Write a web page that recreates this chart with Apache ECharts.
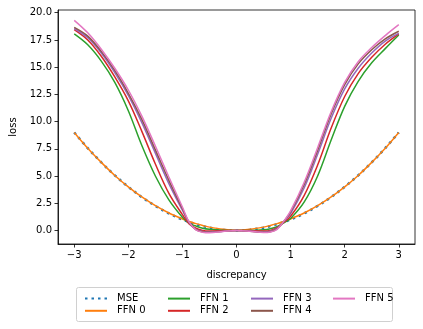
<!DOCTYPE html>
<html>
<head>
<meta charset="utf-8">
<script src="https://cdn.jsdelivr.net/npm/echarts@6/dist/echarts.min.js"></script>
<style>
  html, body { margin: 0; padding: 0; background: #fff; }
  #chart { width: 423px; height: 329px; }
</style>
</head>
<body>
<div id="chart"></div>
<script>
// discrepancy values (x)
var xs = [-3, -2.75, -2.5, -2.25, -2, -1.75, -1.5, -1.25, -1, -0.875, -0.75, -0.625, -0.5, -0.25, 0,
          0.25, 0.5, 0.625, 0.75, 0.875, 1, 1.25, 1.5, 1.75, 2, 2.25, 2.5, 2.75, 3];
var xTicks = [-3, -2, -1, 0, 1, 2, 3];
var yTicks = [0, 2.5, 5, 7.5, 10, 12.5, 15, 17.5, 20];

// loss
var mse  = [9, 7.56, 6.25, 5.06, 4, 3.06, 2.25, 1.56, 1, 0.77, 0.56, 0.39, 0.25, 0.06, 0,
            0.06, 0.25, 0.39, 0.56, 0.77, 1, 1.56, 2.25, 3.06, 4, 5.06, 6.25, 7.56, 9];
var ffn0 = [9.0, 7.55, 6.25, 5.05, 4.0, 3.07, 2.27, 1.6, 1.05, 0.82, 0.62, 0.45, 0.3, 0.1, 0.02,
            0.1, 0.3, 0.45, 0.62, 0.82, 1.05, 1.6, 2.27, 3.07, 4.0, 5.05, 6.25, 7.55, 9.0];
var ffn1 = [18.05, 17.05, 15.55, 13.6, 11.0, 7.8, 5.0, 2.8, 1.2, 0.65, 0.4, 0.2, 0.1, 0.02, 0,
            0.0, 0.05, 0.15, 0.35, 0.7, 1.1, 2.6, 5.0, 8.3, 11.4, 13.7, 15.4, 16.7, 17.95];
var ffn2 = [18.45, 17.5, 16.0, 14.1, 11.9, 9.1, 6.1, 3.4, 1.45, 0.6, 0.2, 0.0, -0.05, -0.02, 0,
            -0.02, -0.05, 0.0, 0.25, 0.75, 1.3, 3.2, 6.0, 9.4, 12.3, 14.4, 15.9, 17.1, 18.05];
var ffn3 = [18.55, 17.7, 16.3, 14.5, 12.4, 9.9, 7.1, 4.3, 1.85, 0.7, 0.1, -0.1, -0.15, -0.07, 0,
            -0.06, -0.14, -0.08, 0.18, 0.8, 1.55, 3.9, 7.0, 10.3, 13.0, 14.9, 16.3, 17.4, 18.1];
var ffn4 = [18.65, 17.85, 16.45, 14.7, 12.6, 10.2, 7.4, 4.6, 2.0, 0.72, 0.07, -0.13, -0.18, -0.08, 0,
            -0.07, -0.17, -0.12, 0.14, 0.82, 1.7, 4.2, 7.35, 10.7, 13.4, 15.3, 16.6, 17.6, 18.3];
var ffn5 = [19.3, 18.15, 16.65, 14.9, 12.9, 10.5, 7.75, 4.9, 2.15, 0.75, 0.05, -0.17, -0.22, -0.1, 0,
            -0.08, -0.2, -0.15, 0.1, 0.85, 1.8, 4.4, 7.6, 10.9, 13.6, 15.5, 16.8, 17.9, 18.9];

function pairs(ys) {
  return xs.map(function (x, i) { return [x, ys[i]]; });
}
function minus(s) { return String(s).replace('-', '\u2212'); }

var font = 'DejaVu Sans';
var chart = echarts.init(document.getElementById('chart'));

function line(name, ys, color, extra) {
  var s = {
    name: name,
    type: 'line',
    data: pairs(ys),
    smooth: 0.35,
    symbol: 'none',
    animation: false,
    lineStyle: { color: color, width: 1.5 },
    itemStyle: { color: color }
  };
  if (extra) s.lineStyle = Object.assign(s.lineStyle, extra);
  return s;
}

function legendCol(left, names) {
  return {
    orient: 'vertical',
    left: left,
    top: 288,
    itemWidth: 22,
    itemHeight: 14,
    itemGap: 1,
    data: names,
    itemStyle: { opacity: 0 },
    textStyle: { fontFamily: font, fontSize: 10, color: '#000', padding: [0, 0, 0, 5] }
  };
}

var option = {
  animation: false,
  grid: {
    left: 54, right: 8, top: 10, bottom: 85,
    show: true,
    borderColor: '#000',
    borderWidth: 0.8
  },
  xAxis: {
    type: 'value',
    min: -3.3,
    max: 3.3,
    name: 'discrepancy',
    nameLocation: 'middle',
    nameGap: 26,
    nameTextStyle: { fontFamily: font, fontSize: 10, color: '#000' },
    splitLine: { show: false },
    axisLine: { onZero: false, lineStyle: { color: '#000', width: 0.8 } },
    axisTick: { show: true, length: 3.5, lineStyle: { color: '#000', width: 0.8 }, customValues: xTicks },
    axisLabel: {
      fontFamily: font, fontSize: 10, color: '#000', margin: 6,
      customValues: xTicks,
      formatter: function (v) { return minus(v); }
    }
  },
  yAxis: {
    type: 'value',
    min: -1.25,
    max: 20.25,
    name: 'loss',
    nameLocation: 'middle',
    nameGap: 40,
    nameRotate: 90,
    nameTextStyle: { fontFamily: font, fontSize: 10, color: '#000' },
    splitLine: { show: false },
    axisLine: { show: true, onZero: false, lineStyle: { color: '#000', width: 0.8 } },
    axisTick: { show: true, length: 3.5, lineStyle: { color: '#000', width: 0.8 }, customValues: yTicks },
    axisLabel: {
      fontFamily: font, fontSize: 10, color: '#000', margin: 6,
      customValues: yTicks,
      formatter: function (v) { return minus(v.toFixed(1)); }
    }
  },
  legend: [
    legendCol(79, ['MSE', 'FFN 0']),
    legendCol(162, ['FFN 1', 'FFN 2']),
    legendCol(245, ['FFN 3', 'FFN 4']),
    legendCol(327, ['FFN 5'])
  ],
  graphic: [{
    type: 'rect',
    shape: { x: 76.5, y: 287.5, width: 316, height: 34, r: 2 },
    style: { fill: 'none', stroke: '#d0d0d0', lineWidth: 1 },
    silent: true
  }],
  series: [
    line('MSE', mse, '#1f77b4', { type: [2.5, 4], width: 2.5, cap: 'butt' }),
    line('FFN 0', ffn0, '#ff7f0e'),
    line('FFN 1', ffn1, '#2ca02c'),
    line('FFN 2', ffn2, '#d62728'),
    line('FFN 3', ffn3, '#9467bd'),
    line('FFN 4', ffn4, '#8c564b'),
    line('FFN 5', ffn5, '#e377c2')
  ]
};
chart.setOption(option);
</script>
</body>
</html>
